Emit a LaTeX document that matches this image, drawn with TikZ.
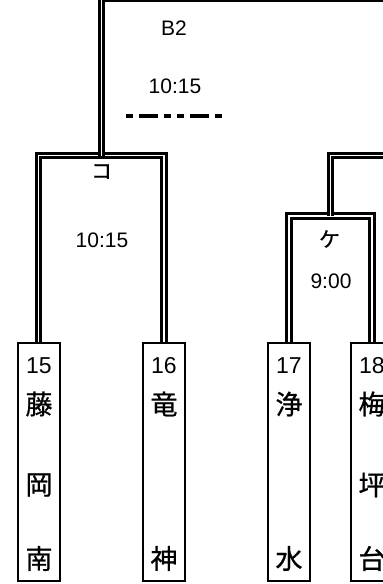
\documentclass[tikz,border=0pt]{standalone}
\usepackage{fontspec}
\setmainfont{Liberation Sans}
\newfontfamily\jpfont[FakeBold=0.8]{Noto Sans CJK JP}
\usetikzlibrary{positioning}
\tikzset{
  school/.style = {rectangle, draw=black, line width=2.5pt, fill=white,
    minimum width=42pt, minimum height=238pt, inner sep=0pt},% team box
  num/.style = {inner sep=0pt, font=\fontsize{23}{23}\selectfont},
  kanji/.style = {inner sep=0pt, font=\jpfont\fontsize{27}{27}\selectfont},
  info/.style = {inner sep=0pt, font=\fontsize{21}{21}\selectfont},
  kana/.style = {inner sep=0pt, font=\jpfont\fontsize{21}{21}\selectfont},
  bracket/.style = {draw=black, line width=3pt, double=white,
    double distance=1.5pt, line join=miter},
  undecided/.style = {line width=4pt,
    dash pattern=on 7pt off 6pt on 19pt off 6pt on 7pt off 6pt},
}

\begin{document}
\begin{tikzpicture}[x=1pt,y=-1pt]
  \useasboundingbox (0,0) rectangle (383,584);

  % team boxes
  \node[school] (t15) at (39,462) {};
  \node[school] (t16) at (164,462) {};
  \node[school] (t17) at (289,462) {};
  \node[school] (t18) at (372,462) {};

  % junction points
  \coordinate (ko1) at (38.5,155.5);
  \coordinate (ko2) at (164,155.5);
  \coordinate (ko) at (101.5,155.5);
  \coordinate (b2end) at (400,-1.5);
  \coordinate (ke2) at (372,216);
  \coordinate (ke) at (330.5,216);
  \coordinate (keend) at (400,155.5);

  % brackets
  \draw[bracket] (t15.north -| ko1) |- (ko2) -- (t16.north);
  \draw[bracket] (t17.north) |- (ke2) -- (t18.north);
  \draw[bracket] (ko) |- (b2end);
  \draw[bracket] (ke) |- (keend);

  % match labels
  \node[info] (lb2) at (174,28.5) {B2};
  \node[info] (lb2t) at (175,86) {10:15};
  \coordinate (dash1) at (126,115.5);
  \coordinate (dash2) at (223,115.5);
  \draw[undecided] (dash1) -- (dash2);
  \node[kana] (lko) at (101.5,171.5) {コ};
  \node[info] (lkot) at (102,240) {10:15};
  \node[kana] (lke) at (329.5,239) {ケ};
  \node[info] (lket) at (331,281) {9:00};

  % team names
  \node[num] (n15) at (39,366) {15};
  \node[kanji] (a15) at (39,404) {藤};
  \node[kanji] (b15) at (39,485) {岡};
  \node[kanji] (c15) at (39,558.5) {南};

  \node[num] (n16) at (164,366) {16};
  \node[kanji] (a16) at (164,404) {竜};
  \node[kanji] (c16) at (164,558.5) {神};

  \node[num] (n17) at (289,366) {17};
  \node[kanji] (a17) at (289,404) {浄};
  \node[kanji] (c17) at (289,558.5) {水};

  \node[num] (n18) at (372,366) {18};
  \node[kanji] (a18) at (372,404) {梅};
  \node[kanji] (b18) at (372,485) {坪};
  \node[kanji] (c18) at (372,558.5) {台};
\end{tikzpicture}
\end{document}
